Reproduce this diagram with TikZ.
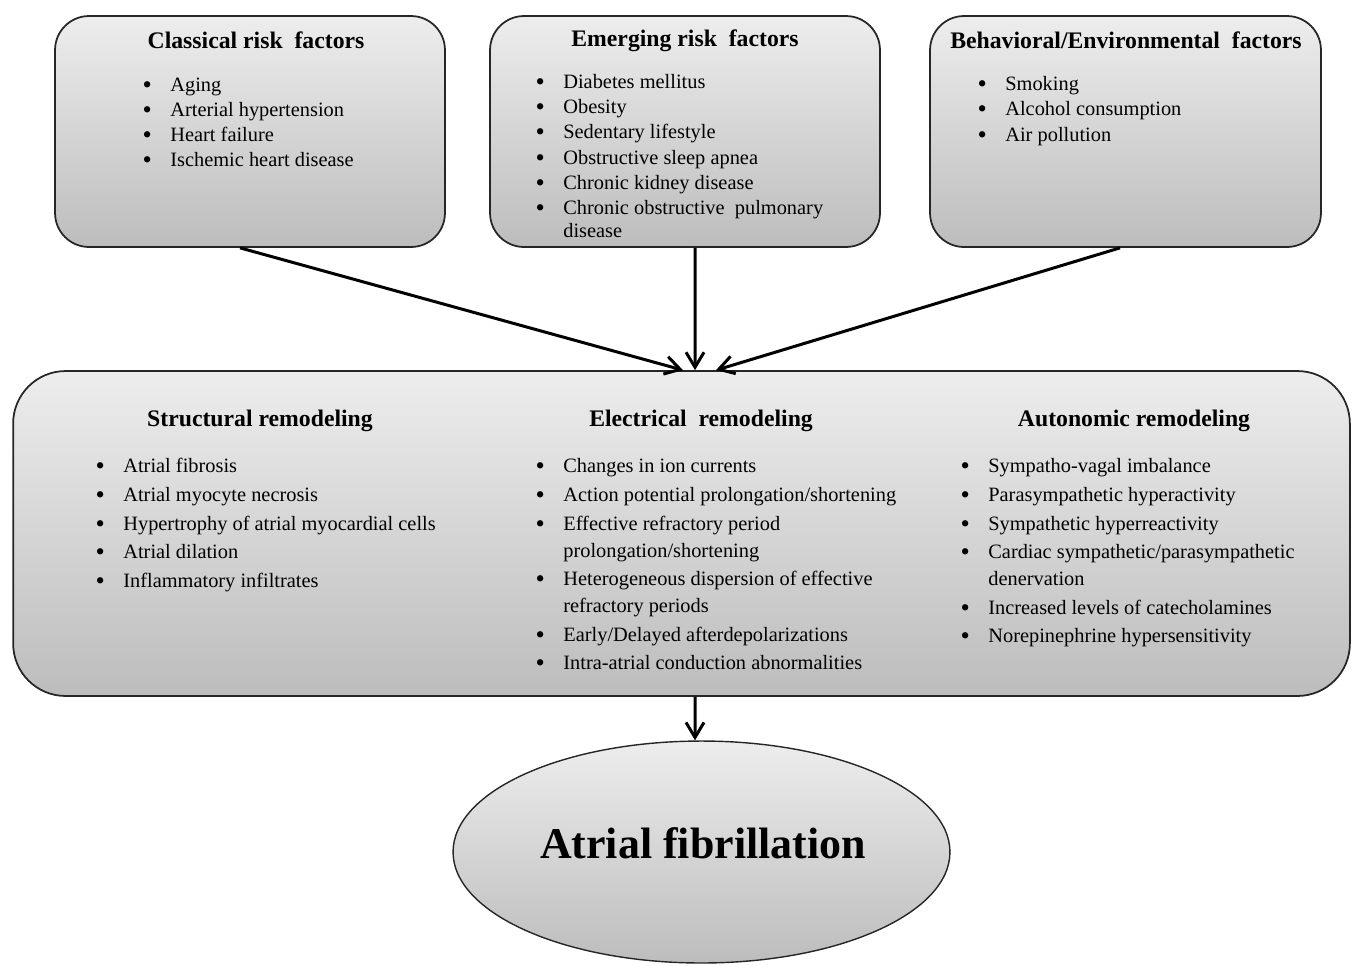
\documentclass[tikz,border=0pt]{standalone}
\usepackage{fontspec}
\setmainfont{Liberation Serif}
\usetikzlibrary{arrows.meta}
\usetikzlibrary{shapes.geometric}

\colorlet{shadetop}{gray!14}
\colorlet{shadebot}{gray!52}
\newcommand{\itm}{\llap{\raisebox{-0.6pt}{\fontsize{15}{14}\selectfont\textbullet}\hspace{0.37cm}}}

\begin{document}
\begin{tikzpicture}[x=0.02cm,y=-0.02cm]
\tikzset{box/.style={draw=black!85, line width=1pt, rounded corners=0.68cm, top color=shadetop, bottom color=shadebot, minimum height=4.62cm, inner sep=0pt},
  head/.style={font=\fontsize{13.5}{16}\selectfont\bfseries, text height=0.7em, text depth=0.25em, inner sep=0pt, yshift=-0.09cm},
  item/.style={anchor=west, font=\fontsize{11.6}{14}\selectfont, text height=0.7em, text depth=0.25em, inner sep=0pt, yshift=-0.08cm},
  arrow/.style={line width=1.7pt, -{Straight Barb[length=0.3cm,width=0.36cm,line width=1.7pt]}}}
\useasboundingbox (0,0) rectangle (1352,965);

% risk factor boxes
\node[box, minimum width=7.8cm] (classical) at (250,131.5) {};
\node[box, minimum width=7.8cm] (emerging) at (685,131.5) {};
\node[box, minimum width=7.82cm] (behav) at (1125.5,131.5) {};
\node[head] (classicalT) at (256,40) {Classical risk~ factors};
\node[head] (emergingT) at (685,38) {Emerging risk~ factors};
\node[head] (behavT) at (1126,40) {Behavioral/Environmental~ factors};
\foreach \y/\t [count=\i] in {84/{\itm Aging}, 109/{\itm Arterial hypertension}, 134/{\itm Heart failure}, 159/{\itm Ischemic heart disease}}
  \node[item] (cl\i) at (170,\y) {\t};
\foreach \y/\t [count=\i] in {81/{\itm Diabetes mellitus}, 106/{\itm Obesity}, 131/{\itm Sedentary lifestyle}, 157/{\itm Obstructive sleep apnea}, 182/{\itm Chronic kidney disease}, 207/{\itm Chronic obstructive~ pulmonary}, 230/{disease}}
  \node[item] (em\i) at (563,\y) {\t};
\foreach \y/\t [count=\i] in {83/{\itm Smoking}, 108/{\itm Alcohol consumption}, 134/{\itm Air pollution}}
  \node[item] (be\i) at (1005,\y) {\t};

% remodeling box
\node[box, rounded corners=1.05cm, minimum width=26.74cm, minimum height=6.5cm] (remodel) at (681.5,533.5) {};
\node[head] (structT) at (260,418) {Structural remodeling};
\node[head] (electT) at (701,418) {Electrical~ remodeling};
\node[head] (autoT) at (1134,418) {Autonomic remodeling};
\foreach \y/\t [count=\i] in {465/{\itm Atrial fibrosis}, 494/{\itm Atrial myocyte necrosis}, 523/{\itm Hypertrophy of atrial myocardial cells}, 551/{\itm Atrial dilation}, 580/{\itm Inflammatory infiltrates}}
  \node[item] (st\i) at (123,\y) {\t};
\foreach \y/\t [count=\i] in {465/{\itm Changes in ion currents}, 494/{\itm Action potential prolongation/shortening}, 523/{\itm Effective refractory period}, 550/{prolongation/shortening}, 578/{\itm Heterogeneous dispersion of effective}, 605/{refractory periods}, 634/{\itm Early/Delayed afterdepolarizations}, 662/{\itm Intra-atrial conduction abnormalities}}
  \node[item] (el\i) at (563,\y) {\t};
\foreach \y/\t [count=\i] in {465/{\itm Sympatho-vagal imbalance}, 494/{\itm Parasympathetic hyperactivity}, 523/{\itm Sympathetic hyperreactivity}, 551/{\itm Cardiac sympathetic/parasympathetic}, 578/{denervation}, 607/{\itm Increased levels of catecholamines}, 635/{\itm Norepinephrine hypersensitivity}}
  \node[item] (au\i) at (988,\y) {\t};

% outcome
\node[ellipse, draw=black!85, line width=0.8pt, top color=shadetop, bottom color=shadebot, minimum width=9.94cm, minimum height=4.44cm, inner sep=0pt, font=\fontsize{25}{30}\selectfont\bfseries] (af) at (701.5,852) {};
\node[inner sep=0pt, font=\fontsize{25}{30}\selectfont\bfseries] (afT) at (703,843) {Atrial fibrillation};

\draw ([xshift=-0.2cm]classical.south) edge[arrow] ([xshift=0.03cm]remodel.north);
\draw ([xshift=0.2cm]emerging.south) edge[arrow] ([xshift=0.27cm]remodel.north);
\draw ([xshift=-0.11cm]behav.south) edge[arrow] ([xshift=0.69cm]remodel.north);
\draw ([xshift=0.27cm]remodel.south) edge[arrow] ([xshift=-0.13cm]af.north);

\end{tikzpicture}
\end{document}
